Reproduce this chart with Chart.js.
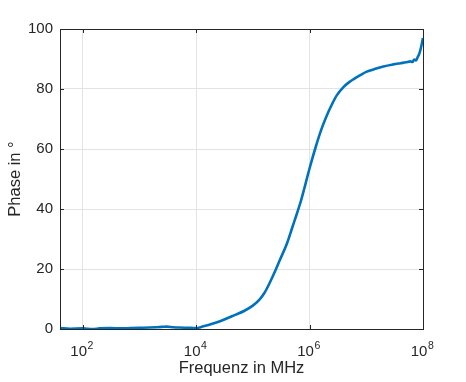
<!DOCTYPE html>
<html>
<head>
<meta charset="utf-8">
<script src="https://cdn.jsdelivr.net/npm/chart.js@4/dist/chart.umd.min.js"></script>
<style>
html,body{margin:0;padding:0;background:#fff;}
#wrap{width:466px;height:382px;}
</style>
</head>
<body>
<div id="wrap"><canvas id="c" width="466" height="382"></canvas></div>
<script>
const frequencies = [40, 60, 100, 150, 200, 300, 500, 700, 1000, 1500, 2000, 2500, 3000, 4000, 5000, 7000, 10000,
  13000, 20000, 30000, 50000, 70000, 100000, 130000, 160000, 200000, 250000, 300000, 400000, 500000, 600000, 700000, 800000,
  1e6, 1.3e6, 1.6e6, 2e6, 2.5e6, 3e6, 4e6, 5e6, 6e6, 8e6, 1e7, 1.5e7, 2e7, 3e7, 4e7, 5e7, 6e7, 6.5e7, 7e7, 7.5e7, 8e7, 8.5e7, 9e7, 1e8];
const phase = [0.3, 0.1, 0.2, 0.0, 0.2, 0.3, 0.2, 0.3, 0.4, 0.5, 0.6, 0.7, 0.8, 0.6, 0.5, 0.4, 0.3,
  0.8, 1.8, 3.0, 4.8, 6.0, 7.8, 9.7, 12, 15.5, 19.5, 23, 28.5, 34, 38.5, 42.5, 46.5,
  53.5, 61.0, 66.3, 71, 75, 77.8, 80.7, 82.3, 83.3, 84.7, 85.7, 86.8, 87.5, 88.2, 88.6, 88.9, 89.2, 89.0, 89.8, 89.5, 90.5, 91.5, 93, 97];
const xTickValues = [1e2, 1e4, 1e6, 1e8];
const xTickExponents = ['2', '4', '6', '8'];
const yTickValues = [0, 20, 40, 60, 80, 100];
const xTitle = 'Frequenz in MHz';
const yTitle = 'Phase in °';

const FONT = '"Liberation Sans", Arial, Helvetica, sans-serif';
const TEXT = '#262626';
const AXIS = '#262626';

const decor = {
  id: 'decor',
  afterDraw(chart) {
    const ctx = chart.ctx;
    const a = chart.chartArea;
    const xs = chart.scales.x, ys = chart.scales.y;
    ctx.save();
    ctx.strokeStyle = AXIS;
    ctx.lineWidth = 1;
    ctx.strokeRect(Math.round(a.left) + 0.5, Math.round(a.top) + 0.5, Math.round(a.right - a.left), Math.round(a.bottom - a.top));
    const tl = 4;
    ctx.beginPath();
    xTickValues.forEach(v => {
      const px = Math.round(xs.getPixelForValue(v)) + 0.5;
      ctx.moveTo(px, a.bottom); ctx.lineTo(px, a.bottom - tl);
      ctx.moveTo(px, a.top); ctx.lineTo(px, a.top + tl);
    });
    yTickValues.forEach(v => {
      const py = Math.round(ys.getPixelForValue(v)) + 0.5;
      ctx.moveTo(a.left, py); ctx.lineTo(a.left + tl, py);
      ctx.moveTo(a.right, py); ctx.lineTo(a.right - tl, py);
    });
    ctx.stroke();
    ctx.fillStyle = TEXT;
    ctx.textBaseline = 'alphabetic';
    xTickValues.forEach((v, i) => {
      const px = xs.getPixelForValue(v);
      ctx.font = '15px ' + FONT;
      const wb = ctx.measureText('10').width;
      ctx.font = '10.5px ' + FONT;
      const we = ctx.measureText(xTickExponents[i]).width;
      const start = px - (wb + we) / 2 - 1;
      ctx.font = '15px ' + FONT;
      ctx.textAlign = 'left';
      ctx.fillText('10', start, 356);
      ctx.font = '10.5px ' + FONT;
      ctx.fillText(xTickExponents[i], start + wb + 0.5, 349);
    });
    ctx.font = '16.5px ' + FONT;
    ctx.textAlign = 'center';
    ctx.fillText(xTitle, (a.left + a.right) / 2, 373);
    ctx.save();
    ctx.translate(20, (a.top + a.bottom) / 2);
    ctx.rotate(-Math.PI / 2);
    ctx.fillText(yTitle, 0, 0);
    ctx.restore();
    ctx.restore();
  }
};

new Chart(document.getElementById('c'), {
  type: 'line',
  data: {
    datasets: [{
      data: frequencies.map((f, i) => ({x: f, y: phase[i]})),
      borderColor: '#0072BD',
      borderWidth: 2.6,
      pointRadius: 0,
      cubicInterpolationMode: 'monotone',
      fill: false
    }]
  },
  options: {
    responsive: false,
    animation: false,
    devicePixelRatio: 1,
    layout: {padding: {left: 0, right: 43, top: 29, bottom: 0}},
    plugins: {legend: {display: false}, tooltip: {enabled: false}},
    scales: {
      x: {
        type: 'logarithmic',
        min: 40, max: 1e8,
        afterBuildTicks: s => { s.ticks = xTickValues.map(v => ({value: v})); },
        afterFit: s => { s.height = 53; },
        ticks: {display: false},
        grid: {color: '#e3e3e3', drawTicks: false},
        border: {display: false}
      },
      y: {
        min: 0, max: 100,
        afterBuildTicks: s => { s.ticks = yTickValues.map(v => ({value: v})); },
        afterFit: s => { s.width = 60; },
        ticks: {color: TEXT, font: {family: FONT, size: 15}, padding: 7},
        grid: {color: '#e3e3e3', drawTicks: false},
        border: {display: false}
      }
    }
  },
  plugins: [decor]
});
</script>
</body>
</html>
